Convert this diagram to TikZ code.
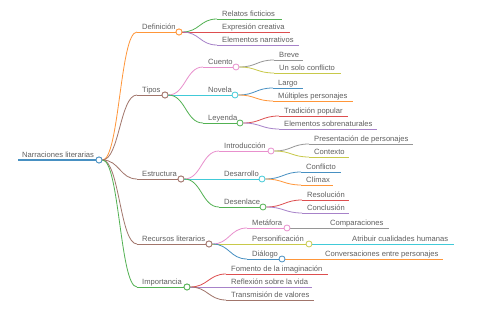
\documentclass[tikz,border=0pt]{standalone}
\usepackage{fontspec}
\setmainfont{Liberation Sans}
\definecolor{cblue0}{HTML}{1F77B4}
\definecolor{corange0}{HTML}{FF7F0E}
\definecolor{cgreen0}{HTML}{2CA02C}
\definecolor{cred0}{HTML}{D62728}
\definecolor{cpurple0}{HTML}{9467BD}
\definecolor{cbrown0}{HTML}{8C564B}
\definecolor{cpink0}{HTML}{E377C2}
\definecolor{cgray0}{HTML}{7F7F7F}
\definecolor{colive0}{HTML}{BCBD22}
\definecolor{ccyan0}{HTML}{17BECF}
\colorlet{cblue}{cblue0!82!white}
\colorlet{corange}{corange0!82!white}
\colorlet{cgreen}{cgreen0!82!white}
\colorlet{cred}{cred0!82!white}
\colorlet{cpurple}{cpurple0!82!white}
\colorlet{cbrown}{cbrown0!82!white}
\colorlet{cpink}{cpink0!82!white}
\colorlet{cgray}{cgray0!82!white}
\colorlet{colive}{colive0!82!white}
\colorlet{ccyan}{ccyan0!82!white}
\definecolor{txt}{HTML}{606060}
\tikzset{
  lbl/.style={font=\fontsize{7.6}{9}\selectfont, text=txt, inner sep=0pt, anchor=base west},
  ln/.style={line width=0.8pt},
  dot/.style={circle, draw=#1, fill=white, line width=0.8pt, minimum size=6pt, inner sep=0pt}
}
% name, color, line start x, text x, y, end x, text
\newcommand{\mmitem}[7]{%
  \coordinate (#1-s) at (#3,#5);
  \coordinate (#1-e) at (#6,#5);
  \node[lbl] (#1-t) at (#4,#5-2.5) {#7};
  \draw[#2,ln] (#1-s) -- (#1-e);
}
\newcommand{\mmdot}[2]{\node[dot=#2] (#1) at (#1-e) {};}
\newcommand{\mmlink}[3]{\draw[#3,ln] (#1.east) .. controls +(17,0) and +(-17,0) .. (#2-s);}
\begin{document}
\begin{tikzpicture}[x=1pt,y=-1pt]
\useasboundingbox[fill=white] (0,0) rectangle (480,320);
% root
\coordinate (root-s) at (18,160);
\coordinate (root-e) at (99,160);
\node[lbl] (root-t) at (22,157.5) {Narraciones literarias};
\draw[cblue,line width=1.3pt] (root-s) -- (root-e);
% level 1
\mmitem{def}{corange}{137}{142}{32}{179}{Definición}
\mmitem{tip}{cbrown}{137}{142}{95}{165}{Tipos}
\mmitem{est}{cbrown}{137}{142}{179}{181}{Estructura}
\mmitem{rec}{cbrown}{137}{142}{244}{209}{Recursos literarios}
\mmitem{imp}{cgreen}{137}{142}{287}{187}{Importancia}
% Definicion children
\mmitem{rel}{cgreen}{217}{222}{19}{282}{Relatos ficticios}
\mmitem{exp}{cred}{217}{222}{32}{290}{Expresión creativa}
\mmitem{ele}{cpurple}{217}{222}{45}{299}{Elementos narrativos}
% Tipos children
\mmitem{cue}{cpink}{203}{208}{67}{236}{Cuento}
\mmitem{nov}{ccyan}{203}{208}{95}{235}{Novela}
\mmitem{ley}{cgreen}{203}{208}{123}{240}{Leyenda}
\mmitem{bre}{cgray}{274}{279}{60}{303}{Breve}
\mmitem{uns}{colive}{274}{279}{73}{341}{Un solo conflicto}
\mmitem{lar}{cblue}{273}{278}{88}{303}{Largo}
\mmitem{mul}{corange}{273}{278}{101}{353}{Múltiples personajes}
\mmitem{tra}{cred}{279}{284}{116}{348}{Tradición popular}
\mmitem{eso}{cpurple}{279}{284}{129}{377}{Elementos sobrenaturales}
% Estructura children
\mmitem{int}{cpink}{219}{224}{151}{271}{Introducción}
\mmitem{des}{ccyan}{219}{224}{179}{262}{Desarrollo}
\mmitem{dsl}{cgreen}{219}{224}{207}{263}{Desenlace}
\mmitem{pre}{cgray}{309}{314}{144}{413}{Presentación de personajes}
\mmitem{con}{colive}{309}{314}{157}{349}{Contexto}
\mmitem{cfl}{cblue}{301}{306}{172}{341}{Conflicto}
\mmitem{cli}{corange}{301}{306}{185}{333}{Clímax}
\mmitem{res}{cred}{302}{307}{200}{349}{Resolución}
\mmitem{ccl}{cpurple}{302}{307}{213}{349}{Conclusión}
% Recursos children
\mmitem{met}{cpink}{247}{252}{228}{287}{Metáfora}
\mmitem{per}{colive}{247}{252}{244}{309}{Personificación}
\mmitem{dia}{cblue}{247}{252}{259}{282}{Diálogo}
\mmitem{com}{cgray}{290}{330}{228}{389}{Comparaciones}
\mmitem{atr}{ccyan}{312}{352}{244}{454}{Atribuir cualidades humanas}
\mmitem{cvs}{corange}{285}{325}{259}{443}{Conversaciones entre personajes}
% Importancia children
\mmitem{fom}{cred}{226}{231}{274}{328}{Fomento de la imaginación}
\mmitem{ref}{cpurple}{226}{231}{287}{312}{Reflexión sobre la vida}
\mmitem{trm}{cbrown}{226}{231}{300}{314}{Transmisión de valores}
% connectors
\node[dot=cblue] (root) at (root-e) {};
\mmdot{def}{corange}\mmdot{tip}{cbrown}\mmdot{est}{cbrown}\mmdot{rec}{cbrown}\mmdot{imp}{cgreen}
\mmlink{root}{def}{corange}
\mmlink{root}{tip}{cbrown}
\mmlink{root}{est}{cbrown}
\mmlink{root}{rec}{cbrown}
\mmlink{root}{imp}{cgreen}
\mmlink{def}{rel}{cgreen}
\mmlink{def}{exp}{cred}
\mmlink{def}{ele}{cpurple}
\mmlink{tip}{cue}{cpink}
\mmlink{tip}{nov}{ccyan}
\mmlink{tip}{ley}{cgreen}
\mmdot{cue}{cpink}\mmdot{nov}{ccyan}\mmdot{ley}{cgreen}
\mmlink{cue}{bre}{cgray}
\mmlink{cue}{uns}{colive}
\mmlink{nov}{lar}{cblue}
\mmlink{nov}{mul}{corange}
\mmlink{ley}{tra}{cred}
\mmlink{ley}{eso}{cpurple}
\mmlink{est}{int}{cpink}
\mmlink{est}{des}{ccyan}
\mmlink{est}{dsl}{cgreen}
\mmdot{int}{cpink}\mmdot{des}{ccyan}\mmdot{dsl}{cgreen}
\mmlink{int}{pre}{cgray}
\mmlink{int}{con}{colive}
\mmlink{des}{cfl}{cblue}
\mmlink{des}{cli}{corange}
\mmlink{dsl}{res}{cred}
\mmlink{dsl}{ccl}{cpurple}
\mmlink{rec}{met}{cpink}
\mmlink{rec}{per}{colive}
\mmlink{rec}{dia}{cblue}
\mmdot{met}{cpink}\mmdot{per}{colive}\mmdot{dia}{cblue}
\mmlink{imp}{fom}{cred}
\mmlink{imp}{ref}{cpurple}
\mmlink{imp}{trm}{cbrown}
% redraw dots on top
\node[dot=cblue] at (root-e) {};
\mmdot{def}{corange}\mmdot{tip}{cbrown}\mmdot{est}{cbrown}\mmdot{rec}{cbrown}\mmdot{imp}{cgreen}
\end{tikzpicture}
\end{document}
